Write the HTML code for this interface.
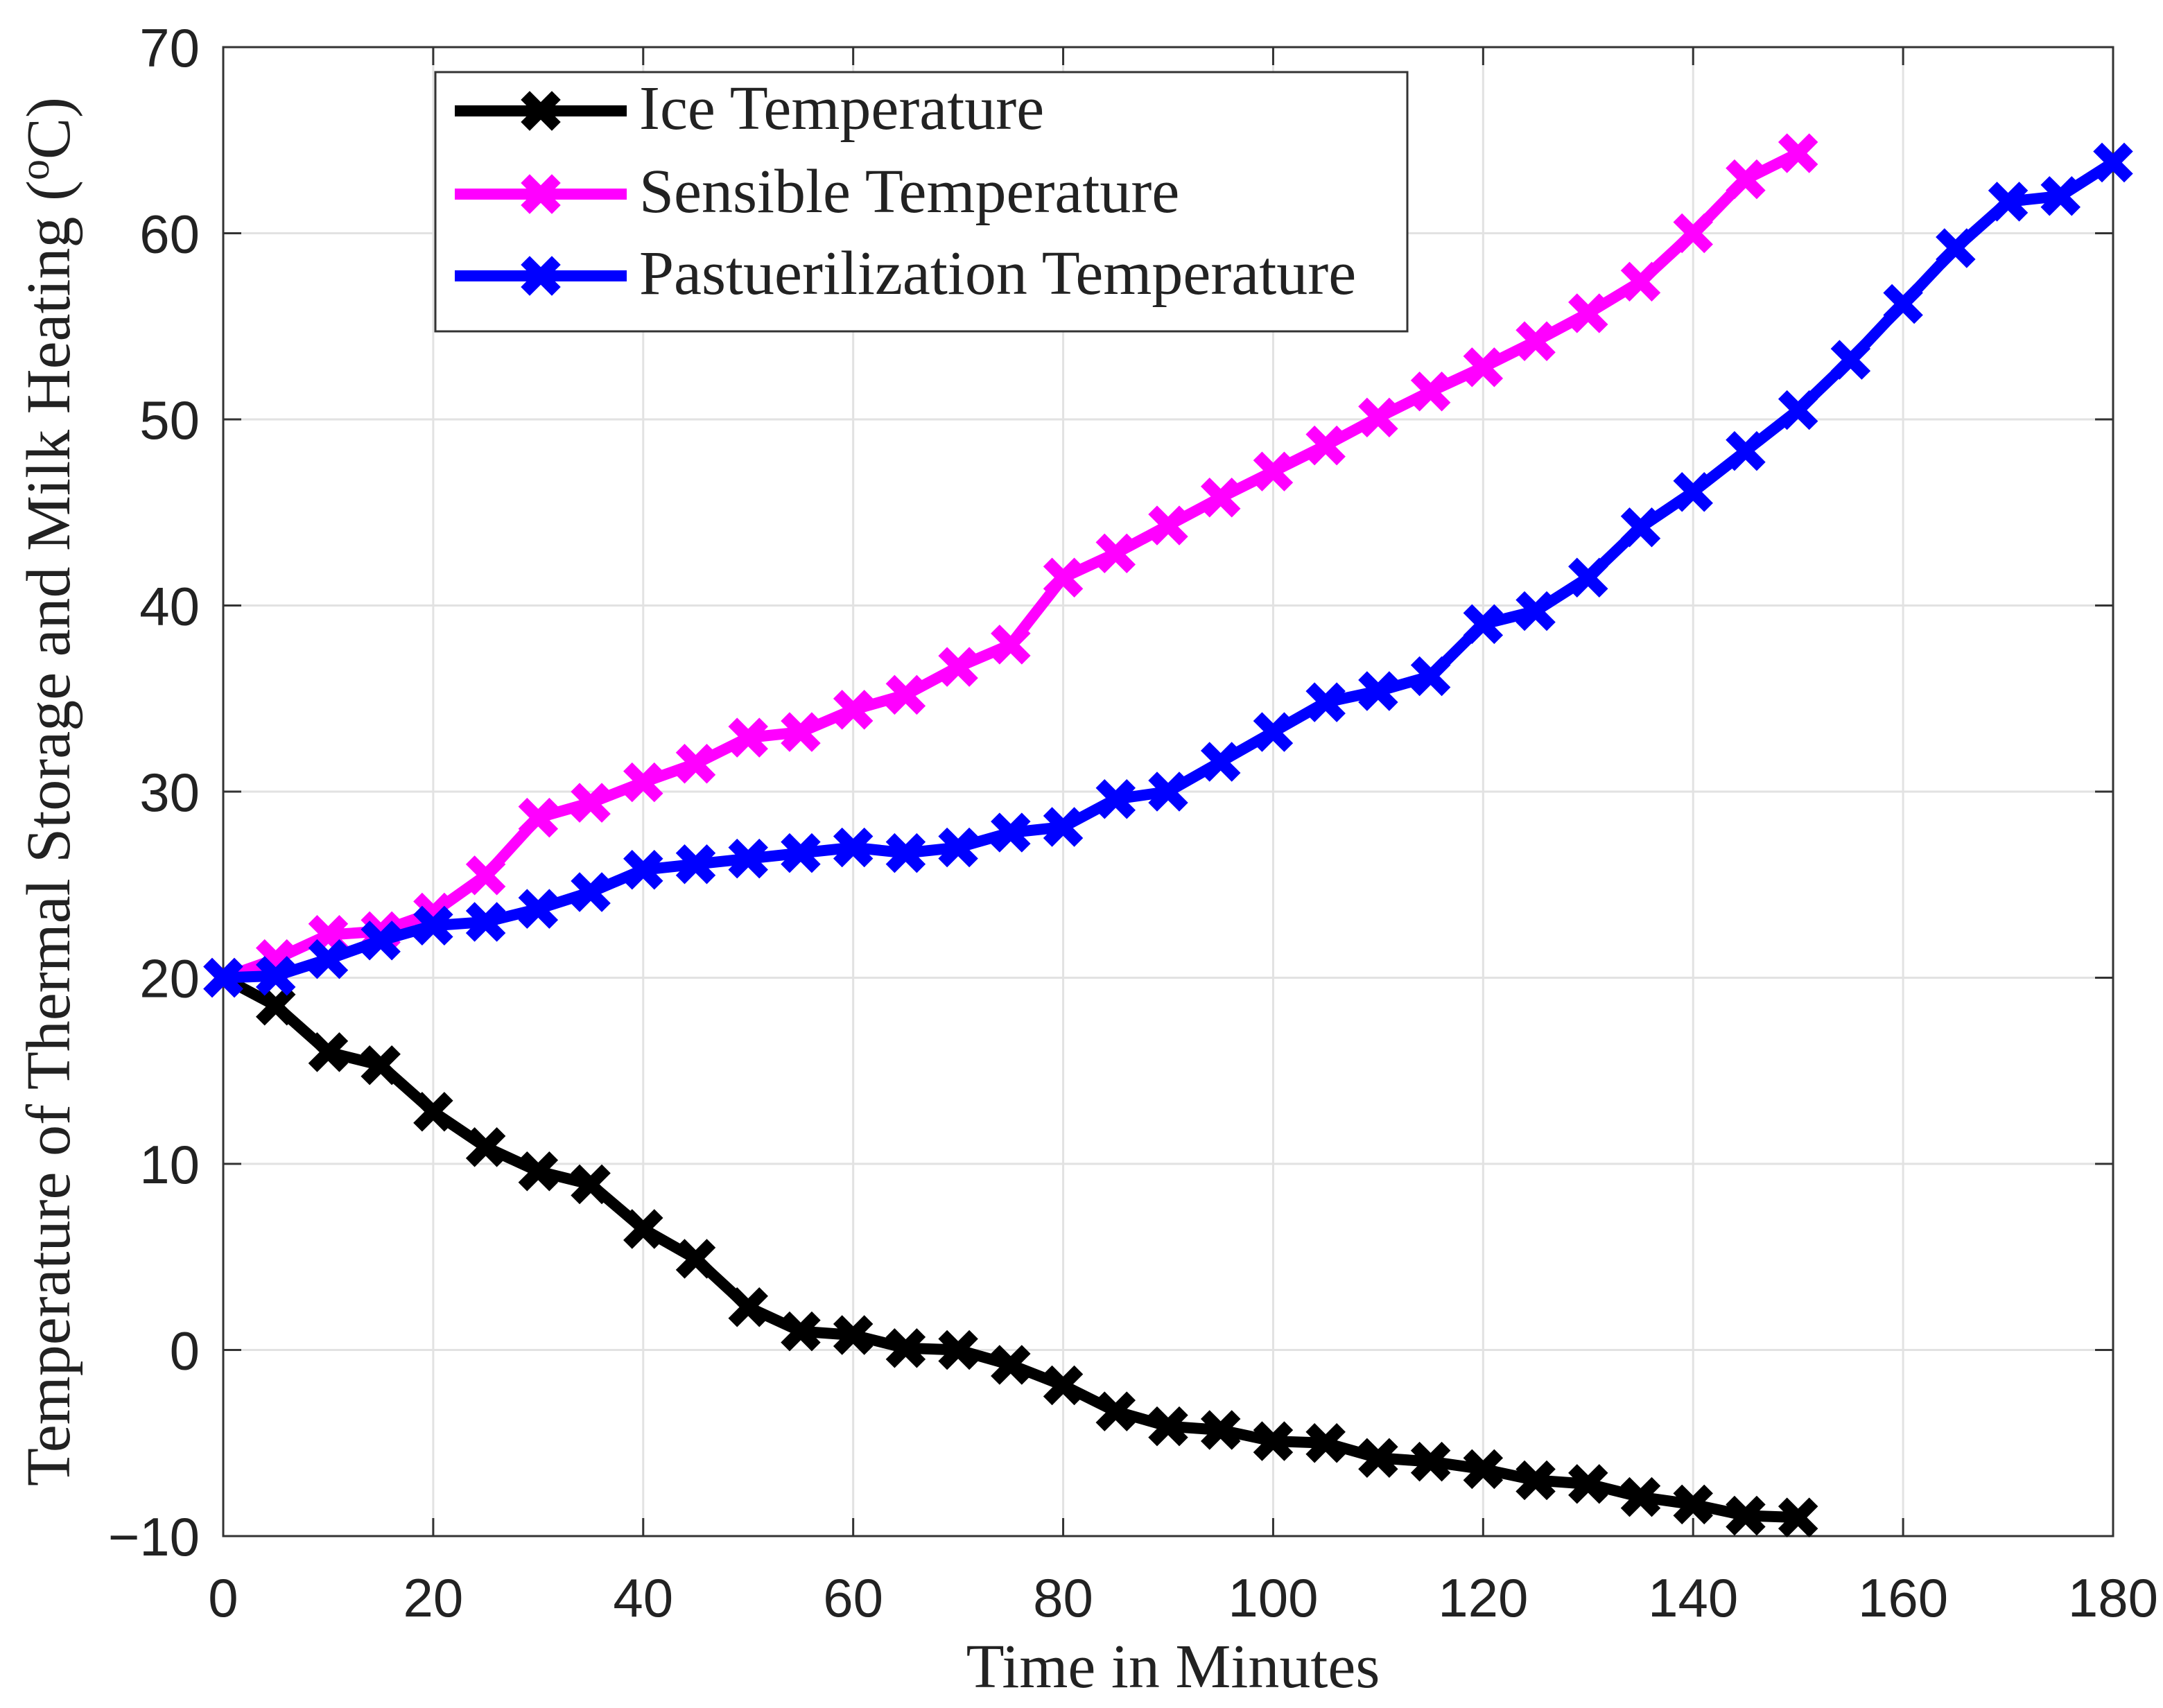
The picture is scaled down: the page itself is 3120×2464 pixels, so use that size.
<!DOCTYPE html>
<html><head><meta charset="utf-8"><style>
html,body{margin:0;padding:0;background:#fff;}
svg text{font-family:"Liberation Sans",sans-serif;}
</style></head><body>
<svg id="chart" width="3120" height="2459" viewBox="0 0 3120 2459" xmlns="http://www.w3.org/2000/svg">
<g id="grid"></g>
<g id="axes"></g>
<g id="series"></g>
<text x="1692" y="2434" font-size="90" text-anchor="middle" fill="#222" style="font-family:'Liberation Serif',serif">Time in Minutes</text>
<text x="0" y="0" font-size="90" text-anchor="middle" fill="#222" transform="translate(100,1142) rotate(-90)" style="font-family:'Liberation Serif',serif">Temperature of Thermal Storage and Milk Heating (<tspan font-size="60" dy="-30">o</tspan><tspan dy="30">C)</tspan></text>
<g id="legend"></g>
</svg>
<script>
const xTicks=[0,20,40,60,80,100,120,140,160,180];
const yTicks=[-10,0,10,20,30,40,50,60,70];
const yTickLabels=["\u221210","0","10","20","30","40","50","60","70"];
const iceX=[0,5,10,15,20,25,30,35,40,45,50,55,60,65,70,75,80,85,90,95,100,105,110,115,120,125,130,135,140,145,150];
const iceY=[20,18.5,16,15.3,12.8,10.9,9.6,8.9,6.5,4.9,2.3,1.0,0.8,0.1,0.0,-0.8,-1.9,-3.3,-4.1,-4.3,-4.9,-5.0,-5.8,-6.0,-6.4,-7.0,-7.2,-7.9,-8.3,-8.9,-9.0];
const sensX=[0,5,10,15,20,25,30,35,40,45,50,55,60,65,70,75,80,85,90,95,100,105,110,115,120,125,130,135,140,145,150];
const sensY=[20,21,22.3,22.5,23.5,25.5,28.6,29.4,30.5,31.5,32.9,33.2,34.4,35.2,36.7,37.9,41.5,42.8,44.3,45.8,47.2,48.6,50.1,51.5,52.8,54.2,55.7,57.4,60.0,62.9,64.3];
const pastX=[0,5,10,15,20,25,30,35,40,45,50,55,60,65,70,75,80,85,90,95,100,105,110,115,120,125,130,135,140,145,150,155,160,165,170,175,180];
const pastY=[20,20.1,21,22,22.8,23,23.7,24.6,25.8,26.1,26.4,26.7,27,26.7,27,27.8,28.1,29.6,30,31.6,33.2,34.8,35.4,36.2,39,39.7,41.5,44.2,46.1,48.3,50.5,53.2,56.2,59.2,61.7,62,63.8];
const legendLabels=["Ice Temperature","Sensible Temperature","Pastuerilization Temperature"];

const NS="http://www.w3.org/2000/svg";
const L=322,R=3048,T=68,B=2216;
const sx=v=>L+(v-0)/(180-0)*(R-L);
const sy=v=>B-(v+10)/80*(B-T);
function mk(tag,attrs,parent){const e=document.createElementNS(NS,tag);for(const k in attrs)e.setAttribute(k,attrs[k]);parent.appendChild(e);return e;}
const grid=document.getElementById('grid'),axes=document.getElementById('axes'),series=document.getElementById('series'),legend=document.getElementById('legend');
xTicks.forEach((t,i)=>{
  const g=mk('line',{x1:sx(t),x2:sx(t),y1:T,y2:B,stroke:'#e2e2e2','stroke-width':3},grid);
  
  
  const tk=mk('line',{x1:sx(t),x2:sx(t),y1:B,y2:B-26,stroke:'#333','stroke-width':3},axes);
  
  
  const tk2=mk('line',{x1:sx(t),x2:sx(t),y1:T,y2:T+26,stroke:'#333','stroke-width':3},axes);
  
  
  const tx=mk('text',{x:sx(t),y:2332,'font-size':78,'text-anchor':'middle',fill:'#222'},axes);
  
  
  tx.textContent=String(t);
});
yTicks.forEach((t,i)=>{
  const g=mk('line',{x1:L,x2:R,y1:sy(t),y2:sy(t),stroke:'#e2e2e2','stroke-width':3},grid);
  
  
  const tk=mk('line',{x1:L,x2:L+26,y1:sy(t),y2:sy(t),stroke:'#333','stroke-width':3},axes);
  
  
  const tk2=mk('line',{x1:R,x2:R-26,y1:sy(t),y2:sy(t),stroke:'#333','stroke-width':3},axes);
  
  
  const tx=mk('text',{x:288,y:sy(t)+28,'font-size':78,'text-anchor':'end',fill:'#222'},axes);
  
  
  tx.textContent=yTickLabels[i];
});
const box=mk('rect',{x:L,y:T,width:R-L,height:B-T,fill:'none',stroke:'#333','stroke-width':3},axes);


function marker(x,y,color,parent){
  const d=`M${x-16},${y-16}L${x+16},${y+16}M${x-16},${y+16}L${x+16},${y-16}`;
  const m=mk('path',{d:d,stroke:color,'stroke-width':18,'stroke-linecap':'square',fill:'none'},parent);
  
  
}
function drawSeries(xs,ys,color,name){
  const g=mk('g',{},series);
  
  
  const pts=xs.map((x,i)=>sx(x)+','+sy(ys[i])).join(' ');
  const pl=mk('polyline',{points:pts,fill:'none',stroke:color,'stroke-width':16,'stroke-linejoin':'round'},g);
  
  
  xs.forEach((x,i)=>marker(sx(x),sy(ys[i]),color,g));
}
drawSeries(iceX,iceY,'#000','ice-temperature-series');
drawSeries(sensX,sensY,'#ff00ff','sensible-temperature-series');
drawSeries(pastX,pastY,'#0000ff','pasteurization-temperature-series');
const lb=mk('rect',{x:628,y:104,width:1402,height:374,fill:'#fff',stroke:'#333','stroke-width':3},legend);


const lc=['#000','#ff00ff','#0000ff'],ly=[160,280,398];
legendLabels.forEach((lab,i)=>{
  const g=mk('g',{},legend);
  
  
  mk('line',{x1:656,x2:904,y1:ly[i],y2:ly[i],stroke:lc[i],'stroke-width':16},g);
  marker(780,ly[i],lc[i],g);
  const t=mk('text',{x:922,y:ly[i]+26,'font-size':90,fill:'#222',style:"font-family:'Liberation Serif',serif"},g);
  
  
  t.textContent=lab;
});
</script>
</body></html>
